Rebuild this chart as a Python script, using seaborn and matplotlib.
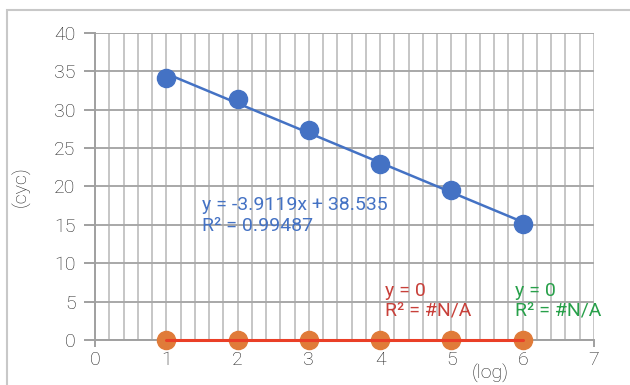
import matplotlib
matplotlib.use("Agg")
import matplotlib.pyplot as plt
import numpy as np
import pandas as pd
import seaborn as sns
from matplotlib.patches import Rectangle
from matplotlib.ticker import MultipleLocator

# Données
dilution_log = [1, 2, 3, 4, 5, 6]
ct_serie1 = [34.1, 31.4, 27.3, 22.9, 19.5, 15.05]
ct_serie2 = [0, 0, 0, 0, 0, 0]
eq_serie1 = ["y = -3.9119x + 38.535", "R² = 0.99487"]
eq_serie2 = ["y = 0", "R² = #N/A"]
eq_serie3 = ["y = 0", "R² = #N/A"]

bleu = "#4472C4"
orange = "#E07B39"
rouge = "#EA3F27"
vert = "#28A04A"
texte = "#222222"

sns.set_style("white")
plt.rcParams["font.family"] = ["Roboto", "DejaVu Sans"]
plt.rcParams["font.weight"] = "light"
plt.rcParams["axes.labelweight"] = "light"
plt.rcParams["text.color"] = texte
plt.rcParams["axes.labelcolor"] = texte

df = pd.DataFrame({"x": dilution_log, "s1": ct_serie1, "s2": ct_serie2})

fig = plt.figure(figsize=(6.3, 3.85), dpi=100)
# cadre extérieur du graphique
fig.patches.append(Rectangle((7 / 630, -0.1), 1.2, 1 - 10 / 385 + 0.1,
                             transform=fig.transFigure, fill=False,
                             edgecolor="#C8C8C8", linewidth=1.5))
ax = fig.add_axes([95 / 630, 1 - 340 / 385, (594 - 95) / 630, (340 - 33) / 385])

sns.scatterplot(data=df, x="x", y="s1", ax=ax, color=bleu, s=170,
                edgecolor=bleu, linewidth=1, zorder=3, clip_on=False)
sns.scatterplot(data=df, x="x", y="s2", ax=ax, color=orange, s=170,
                edgecolor=orange, linewidth=1, zorder=3, clip_on=False)
sns.regplot(data=df, x="x", y="s1", ax=ax, scatter=False, ci=None,
            truncate=True, line_kws={"color": bleu, "lw": 1.8, "zorder": 4})
sns.regplot(data=df, x="x", y="s2", ax=ax, scatter=False, ci=None,
            truncate=True, line_kws={"color": rouge, "lw": 2.2, "zorder": 4,
                                     "clip_on": False})

ax.set_xlim(0, 7)
ax.set_ylim(0, 40)
ax.xaxis.set_major_locator(MultipleLocator(1))
ax.xaxis.set_minor_locator(MultipleLocator(0.2))
ax.yaxis.set_major_locator(MultipleLocator(5))
ax.grid(True, which="both", axis="x", color="#C6C6C6", lw=1.4)
ax.grid(True, which="major", axis="y", color="#A8A8A8", lw=1.4)
ax.set_axisbelow(True)
for cote in ["top", "right"]:
    ax.spines[cote].set_visible(False)
for cote in ["left", "bottom"]:
    ax.spines[cote].set_color("#A0A0A0")
    ax.spines[cote].set_linewidth(1.4)
ax.tick_params(axis="y", length=8, width=1.4, color="#A0A0A0",
               labelsize=14, pad=6, left=True, labelcolor=texte)
ax.tick_params(axis="x", which="major", length=5, width=1.4, color="#A0A0A0",
               labelsize=14, pad=3, bottom=True, labelcolor=texte)
ax.tick_params(axis="x", which="minor", length=0)
ax.set_xlabel("")
ax.set_ylabel("(cyc)", fontsize=14, fontweight="light", labelpad=17)
ax.text(5.54, -4.3, "(log)", fontsize=14, ha="center", va="center")

ax.text(1.5, 18.7, "\n".join(eq_serie1), color=bleu, fontsize=14,
        fontweight="normal", va="top", linespacing=1.15)
ax.text(4.07, 7.6, "\n".join(eq_serie2), color="#C8403A", fontsize=14,
        fontweight="normal", va="top", linespacing=1.15)
ax.text(5.89, 7.6, "\n".join(eq_serie3), color=vert, fontsize=14,
        fontweight="normal", va="top", linespacing=1.15)

fig.savefig("out.png", dpi=100)
